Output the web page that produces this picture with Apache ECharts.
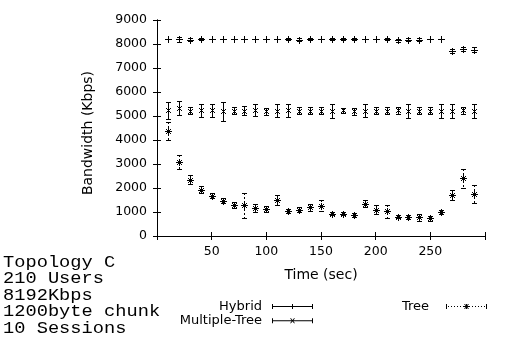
<!DOCTYPE html>
<html><head><meta charset="utf-8">
<script src="https://cdn.jsdelivr.net/npm/echarts@6/dist/echarts.min.js"></script>
<style>html,body{margin:0;padding:0;background:#fff}#c{width:510px;height:342px}</style>
</head><body><div id="c"></div>
<script>
// ---- data ----
const times = [10,20,30,40,50,60,70,80,90,100,110,120,130,140,150,160,170,180,190,200,210,220,230,240,250,260,270,280,290];
const hybridVals = [8195,8190,8170,8195,8195,8195,8195,8195,8195,8195,8195,8195,8170,8195,8195,8195,8195,8195,8195,8195,8190,8160,8170,8170,8195,8195,7710,7790,7770];
const hybridErr  = [0,90,60,40,0,0,0,0,0,0,0,40,60,40,0,40,40,40,0,0,40,60,60,60,0,0,80,90,90];
const multiVals  = [5240,5340,5220,5230,5230,5200,5220,5220,5240,5200,5220,5230,5220,5220,5220,5210,5230,5200,5220,5220,5220,5230,5210,5220,5220,5210,5200,5230,5210];
const multiErr   = [360,290,140,280,280,400,140,190,260,150,280,280,140,140,140,280,100,150,280,150,150,140,280,150,150,280,280,140,280];
const treeVals   = [4390,3080,2350,1930,1680,1475,1310,1280,1170,1130,1500,1045,1100,1200,1270,935,935,865,1350,1100,1030,800,785,785,740,990,1725,2415,1755];
const treeErr    = [370,300,180,140,100,90,125,520,150,125,200,70,110,140,210,70,45,90,140,200,280,70,90,140,105,90,210,395,380];
const seriesNames = ['Hybrid','Multiple-Tree','Tree'];
const xTickLabels = [50,100,150,200,250];
const yTickLabels = [0,1000,2000,3000,4000,5000,6000,7000,8000,9000];
const noteLines = ['Topology C','210 Users','8192Kbps','1200byte chunk','10 Sessions'];
const xTitle = 'Time (sec)';
const yTitle = 'Bandwidth (Kbps)';

// ---- build tables ----
function table(vals, errs){ return times.map((t,i)=>[t, vals[i], errs[i]]); }

function ln(x1,y1,x2,y2,style){ return {type:'line', shape:{x1,y1,x2,y2}, style}; }
function errRender(marker, dashed){
  return function(params, api){
    const x = api.value(0), v = api.value(1), e = api.value(2);
    const c = api.coord([x, v]);
    const cx = Math.round(c[0]), cy = Math.round(c[1]);
    const hi = Math.round(api.coord([x, v + e])[1]);
    const lo = Math.round(api.coord([x, v - e])[1]);
    const solid = {stroke:'#000', lineWidth:1, fill:null};
    const bar = dashed ? {stroke:'#000', lineWidth:1, fill:null, lineDash:[2,2]} : solid;
    const ch = [];
    if (e > 0) {
      ch.push(ln(cx+0.5, hi, cx+0.5, lo+1, bar));
      ch.push(ln(cx-2, hi+0.5, cx+3, hi+0.5, solid));
      ch.push(ln(cx-2, lo+0.5, cx+3, lo+0.5, solid));
    }
    if (marker === 'plus' || marker === 'star') {
      ch.push(ln(cx-3, cy+0.5, cx+4, cy+0.5, solid));
      ch.push(ln(cx+0.5, cy-3, cx+0.5, cy+4, solid));
    }
    if (marker === 'cross' || marker === 'star') {
      ch.push(ln(cx-2, cy-2, cx+3, cy+3, solid));
      ch.push(ln(cx+3, cy-2, cx-2, cy+3, solid));
    }
    return {type:'group', children: ch};
  };
}

// legend sample icons (error-bar samples)
const capsAndLine = 'M0,0h1v5h-1zM40,0h1v5h-1z';
const hybridIcon = 'path://' + capsAndLine + 'M1,2h39v1h-39zM20,0h1v5h-1z';
const multiIcon  = 'path://' + capsAndLine + 'M1,2h39v1h-39zM18,0h1l4,5h-1zM22,0h1l-4,5h-1z';
let dots = '';
for (let p = 2; p < 39; p += 3) dots += 'M' + p + ',2h1v1h-1z';
const treeIcon = 'path://' + capsAndLine + dots + 'M20,0h1v5h-1zM18,2h5v1h-5zM18,0h1l4,5h-1zM22,0h1l-4,5h-1z';

const black = '#000';
const tickFont = {fontFamily:'DejaVu Sans', fontSize:12.5, color:black};
const legendText = {fontFamily:'DejaVu Sans', fontSize:13, color:black, padding:[0,5,0,0]};
const legendText2 = {fontFamily:'DejaVu Sans', fontSize:13, color:black, padding:[0,12,0,0]};

function mirrorAxis(base){ return Object.assign({type:'value', splitLine:{show:false}, axisLabel:{show:false},
  axisLine:{show:true, lineStyle:{color:black, width:1}}, axisTick:{show:true, inside:true, length:4, lineStyle:{color:black}}}, base); }

const chart = echarts.init(document.getElementById('c'), null, {renderer:'canvas'});
chart.setOption({
  animation:false,
  backgroundColor:'#fff',
  grid:{left:157, right:25, top:20, bottom:106, containLabel:false},
  xAxis:[
    {type:'value', min:0, max:300, interval:50, position:'bottom',
     axisLine:{show:true, lineStyle:{color:black, width:1}},
     axisTick:{show:true, inside:true, length:4, lineStyle:{color:black}},
     axisLabel:Object.assign({margin:9, formatter:v => xTickLabels.includes(v) ? String(v) : ''}, tickFont),
     splitLine:{show:false},
     name:xTitle, nameLocation:'middle', nameGap:32,
     nameTextStyle:{fontFamily:'DejaVu Sans', fontSize:14, color:black}},
    mirrorAxis({min:0, max:300, interval:50, position:'top'})
  ],
  yAxis:[
    {type:'value', min:0, max:9000, interval:1000, position:'left',
     axisLine:{show:true, lineStyle:{color:black, width:1}},
     axisTick:{show:true, inside:true, length:4, lineStyle:{color:black}},
     axisLabel:Object.assign({margin:10, formatter:v => yTickLabels.includes(v) ? String(v) : ''}, tickFont),
     splitLine:{show:false}},
    mirrorAxis({min:0, max:9000, interval:1000, position:'right'})
  ],
  legend:[
    {data:[{name:seriesNames[0], icon:hybridIcon},{name:seriesNames[1], icon:multiIcon}],
     orient:'vertical', align:'right', right:197, top:300, padding:0, itemGap:1.3,
     itemWidth:41, itemHeight:5, textStyle:legendText, itemStyle:{color:black, borderWidth:0}, selectedMode:false},
    {data:[{name:seriesNames[2], icon:treeIcon}],
     orient:'vertical', align:'right', right:23, top:300, padding:0,
     itemWidth:41, itemHeight:5, textStyle:legendText2, itemStyle:{color:black, borderWidth:0}, selectedMode:false}
  ],
  graphic:[
    {type:'text', x:88, y:133, rotation:Math.PI/2,
     style:{text:yTitle, x:0, y:0, align:'center', verticalAlign:'middle', fill:black, font:'14px "DejaVu Sans"'}}
  ].concat(noteLines.map((s,i)=>({type:'text', x:3, y:262 + i*16.6, scaleX:1.1,
     style:{text:s, x:0, y:0, align:'left', verticalAlign:'middle', fill:black, font:'17px "Liberation Mono"'}}))),
  series:[
    {type:'custom', name:seriesNames[0], data:table(hybridVals, hybridErr), encode:{x:0, y:1},
     renderItem:errRender('plus', false), itemStyle:{color:black}, silent:true},
    {type:'custom', name:seriesNames[1], data:table(multiVals, multiErr), encode:{x:0, y:1},
     renderItem:errRender('cross', false), itemStyle:{color:black}, silent:true},
    {type:'custom', name:seriesNames[2], data:table(treeVals, treeErr), encode:{x:0, y:1},
     renderItem:errRender('star', true), itemStyle:{color:black}, silent:true}
  ]
});
</script></body></html>
